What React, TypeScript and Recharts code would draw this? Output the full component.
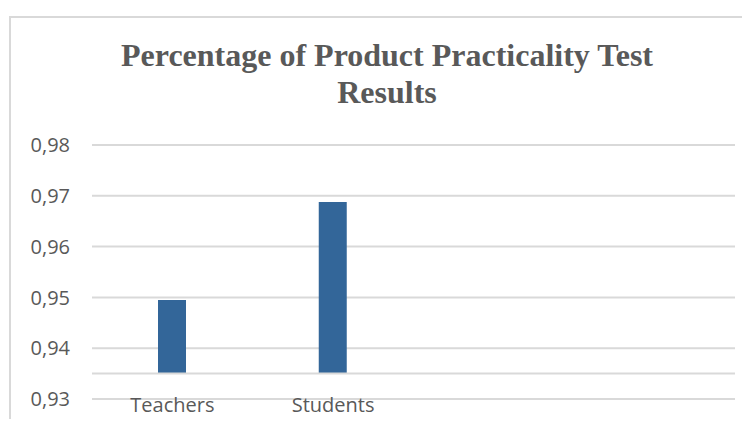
import React from "react"
import { BarChart, Bar, XAxis, YAxis, CartesianGrid, ReferenceLine } from "recharts"

const categories = ["Teachers", "Students", "", ""]
const percentages: (number | null)[] = [0.9495, 0.9688, null, null]
const axisCross = 0.935
const yTicks = [0.93, 0.94, 0.95, 0.96, 0.97, 0.98]

const data = categories.map((name, i) => ({
  name,
  range: percentages[i] == null ? null : [axisCross, percentages[i]],
}))

const gray = "#595959"
const grid = "#d9d9d9"

const CategoryTick = (props: any) => {
  const { x, y, payload } = props
  return (
    <text x={x} y={y + 13} textAnchor="middle" fill={gray} fontSize={20} fontFamily="Open Sans">
      {payload.value}
    </text>
  )
}

export default function App() {
  return (
    <div style={{ position: "relative", width: 750, height: 427, margin: -8, overflow: "hidden", background: "#fff" }}>
      <div
        style={{
          position: "absolute",
          left: 9,
          top: 16,
          width: 800,
          height: 500,
          border: `2px solid ${grid}`,
        }}
      />
      <div
        style={{
          position: "absolute",
          left: 12,
          top: 37,
          width: 750,
          textAlign: "center",
          fontFamily: "Liberation Serif",
          fontWeight: "bold",
          fontSize: 32,
          lineHeight: "37px",
          color: gray,
        }}
      >
        Percentage of Product Practicality Test
        <br />
        Results
      </div>
      <div style={{ position: "absolute", left: 0, top: 0 }}>
        <BarChart
          width={750}
          height={427}
          data={data}
          margin={{ top: 145, right: 15, bottom: 0, left: 0 }}
        >
          <CartesianGrid vertical={false} stroke={grid} strokeWidth={2} />
          <XAxis
            dataKey="name"
            axisLine={false}
            tickLine={false}
            tickSize={0}
            tickMargin={0}
            height={28}
            tick={<CategoryTick />}
            interval={0}
          />
          <YAxis
            domain={[0.93, 0.98]}
            ticks={yTicks}
            allowDataOverflow
            axisLine={false}
            tickLine={false}
            tickSize={0}
            tickMargin={22}
            width={92}
            tickFormatter={(v: number) => v.toFixed(2).replace(".", ",")}
            tick={{ fill: gray, fontSize: 20, fontFamily: "Open Sans" }}
          />
          <ReferenceLine y={axisCross} stroke={grid} strokeWidth={2} />
          <Bar dataKey="range" fill="#336699" barSize={28} isAnimationActive={false} />
        </BarChart>
      </div>
    </div>
  )
}
